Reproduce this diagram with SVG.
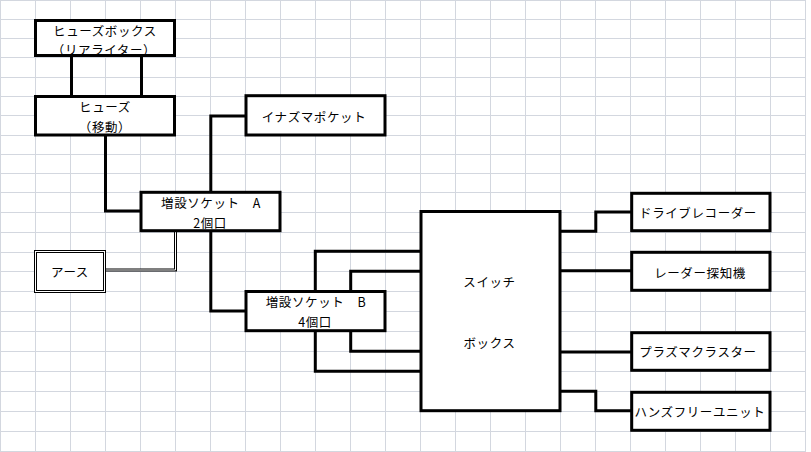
<svg xmlns="http://www.w3.org/2000/svg" width="811" height="452" viewBox="0 0 811 452">
<style>
.grid{stroke:#d3d7df;stroke-width:1;fill:none}
.box{fill:#ffffff;stroke:#000000;stroke-width:3}
.thin{fill:#ffffff;stroke:#000000;stroke-width:1}
.wire{fill:none;stroke:#000000;stroke-width:3;stroke-linejoin:miter}
.dbl-o{fill:none;stroke:#000000;stroke-width:3;stroke-linejoin:miter}
.dbl-i{fill:none;stroke:#ffffff;stroke-width:1;stroke-linejoin:miter}
text{font-family:"Noto Sans CJK JP","Noto Sans CJK SC",sans-serif;font-size:12.5px;letter-spacing:0.6px;fill:#000000;text-anchor:middle;dominant-baseline:central}
</style>
<rect x="0" y="0" width="811" height="452" fill="#ffffff"/>
<g id="grid">
<path class="grid" d="M0.5,0V452M35.5,0V452M70.5,0V452M105.5,0V452M140.5,0V452M175.5,0V452M210.5,0V452M245.5,0V452M280.5,0V452M315.5,0V452M350.5,0V452M385.5,0V452M420.5,0V452M455.5,0V452M490.5,0V452M525.5,0V452M560.5,0V452M595.5,0V452M630.5,0V452M665.5,0V452M700.5,0V452M735.5,0V452M770.5,0V452M805.5,0V452"/>
<path class="grid" d="M0,0.5H806M0,19.5H806M0,38.5H806M0,57.5H806M0,77.5H806M0,96.5H806M0,115.5H806M0,135.5H806M0,154.5H806M0,173.5H806M0,192.5H806M0,212.5H806M0,232.5H806M0,252.5H806M0,271.5H806M0,291.5H806M0,311.5H806M0,331.5H806M0,351.5H806M0,371.5H806M0,391.5H806M0,411.5H806M0,431.5H806M0,451.5H806"/>
</g>
<g id="connectors">
<path class="wire" d="M71.5,55.5V96.5M141.5,55.5V96.5"/>
<path class="wire" d="M105.5,135V211H141"/>
<path class="wire" d="M210.8,192.3V116H246"/>
<path class="wire" d="M210.8,230.7V311H246"/>
<path class="wire" d="M315.3,291.5V251.3H421"/>
<path class="wire" d="M350.7,291.5V271.3H421"/>
<path class="wire" d="M350.7,330.7V351.3H421"/>
<path class="wire" d="M315.3,330.7V371.3H421"/>
<path class="wire" d="M560,231.3H595.8V212H631.7"/>
<path class="wire" d="M560,270.7H631.7"/>
<path class="wire" d="M560,352H631.7"/>
<path class="wire" d="M560,391.3H595.8V410.7H631.7"/>
<path class="dbl-o" d="M105,270H175.5V232"/>
<path class="dbl-i" d="M104,270H175.5V232"/>
</g>
<g id="fusebox">
<rect class="box" x="35.5" y="20.5" width="139" height="35"/>
<text x="105" y="30">ヒューズボックス</text>
<text x="104" y="49">（リアライター）</text>
</g>
<g id="fuse">
<rect class="box" x="35.5" y="96.5" width="139" height="38.5"/>
<text x="105" y="106">ヒューズ</text>
<text x="105" y="126">（移動）</text>
</g>
<g id="inazuma">
<rect class="box" x="246" y="95.7" width="139" height="39.3"/>
<text x="314" y="116.5">イナズマポケット</text>
</g>
<g id="socketA">
<rect class="box" x="141" y="192.3" width="139" height="38.4"/>
<text x="211" y="202.5">増設ソケット　A</text>
<text x="210" y="222">2個口</text>
</g>
<g id="earth">
<rect class="thin" x="34.5" y="250.5" width="71" height="42"/>
<rect class="thin" x="36.5" y="252.5" width="67" height="38"/>
<text x="70" y="271.5">アース</text>
</g>
<g id="socketB">
<rect class="box" x="246" y="291.5" width="139" height="39.2"/>
<text x="316" y="301">増設ソケット　B</text>
<text x="315" y="321.5">4個口</text>
</g>
<g id="switchbox">
<rect class="box" x="421" y="211.5" width="139" height="199.2"/>
<text x="489.5" y="281.5">スイッチ</text>
<text x="489.5" y="342">ボックス</text>
</g>
<g id="recorder">
<rect class="box" x="631.7" y="193.3" width="138.3" height="37.4"/>
<text x="698" y="212">ドライブレコーダー</text>
</g>
<g id="radar">
<rect class="box" x="631.7" y="252.3" width="138.3" height="38"/>
<text x="700" y="272">レーダー探知機</text>
</g>
<g id="plasma">
<rect class="box" x="631.7" y="332.7" width="138.3" height="37.6"/>
<text x="698" y="351.5">プラズマクラスター</text>
</g>
<g id="handsfree">
<rect class="box" x="631.7" y="392.3" width="138.3" height="38"/>
<text x="700" y="411.5">ハンズフリーユニット</text>
</g>
</svg>
